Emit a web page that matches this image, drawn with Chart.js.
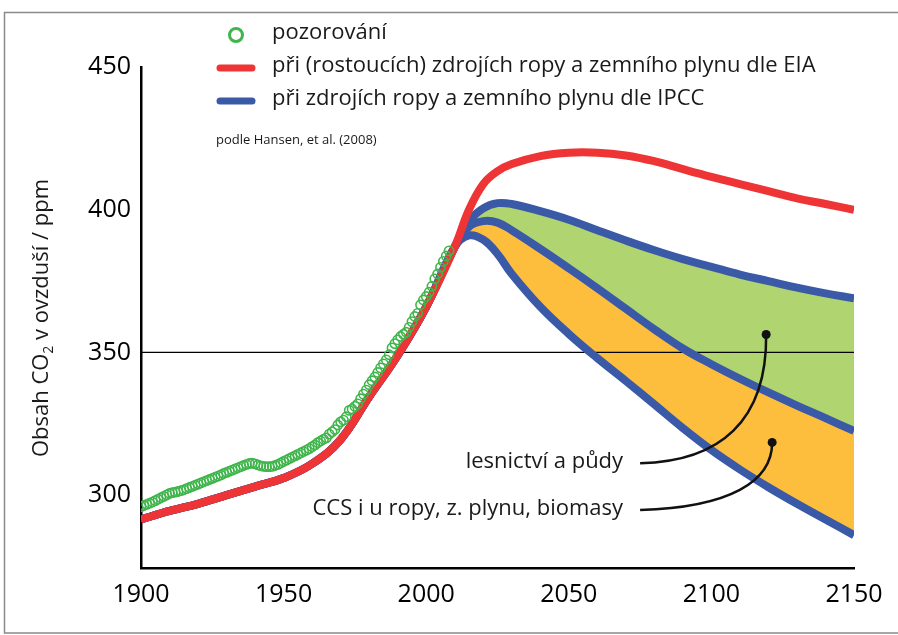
<!DOCTYPE html>
<html>
<head>
<meta charset="utf-8">
<script src="https://cdn.jsdelivr.net/npm/chart.js@4"></script>
<style>
  html, body { margin: 0; padding: 0; background: #fff; }
  canvas { display: block; }
</style>
</head>
<body>
<canvas id="co2" width="898" height="635"></canvas>
<script>
const FONT = '"Open Sans", Lato, sans-serif';

// observations (ice core + Mauna Loa), one per year 1900..2008
const obsStart = 1900;
const obsValues = [
  296.0, 296.4, 296.8, 297.2, 297.6, 298.1, 298.6, 299.1, 299.6, 300.1,
  300.6, 300.9, 301.1, 301.3, 301.6, 301.9, 302.3, 302.7, 303.1, 303.5,
  303.9, 304.3, 304.7, 305.1, 305.5, 305.9, 306.3, 306.7, 307.1, 307.6,
  308.0, 308.4, 308.8, 309.2, 309.6, 310.0, 310.4, 310.8, 311.1, 311.2,
  311.0, 310.6, 310.3, 310.1, 310.0, 310.0, 310.1, 310.4, 310.8, 311.3,
  311.8, 312.3, 312.8, 313.3, 313.8, 314.3, 314.8, 315.3, 315.8, 316.3,
  317.0, 317.6, 318.4, 319.0, 319.6, 320.1, 321.4, 322.2, 323.0, 324.6,
  325.7, 326.3, 327.5, 329.7, 330.2, 331.1, 332.0, 333.8, 335.4, 336.8,
  338.7, 340.1, 341.4, 343.0, 344.6, 346.0, 347.4, 349.2, 351.6, 353.1,
  354.4, 355.6, 356.4, 357.1, 358.8, 360.8, 362.6, 363.7, 366.7, 368.4,
  369.6, 371.1, 373.2, 375.8, 377.5, 379.8, 381.9, 383.8, 385.6
];

// modelled history, shared by all scenarios
const histYears = [1900, 1910, 1920, 1930, 1940, 1950, 1960, 1970, 1980, 1990, 2000];
const histModel = [291.5, 294.5, 297, 300, 303, 306, 311, 319.5, 334.5, 349, 366];

// projections
const projYears = [2010, 2015, 2020, 2025, 2030, 2040, 2050, 2060, 2070, 2080, 2090, 2100, 2110, 2120, 2130, 2140, 2150];
const eiaRed    = [387, 400, 409, 413.5, 416, 418.8, 420, 420, 419, 417, 414.2, 411.5, 409, 406.5, 404, 402, 400];
const ipccHigh  = [387, 396, 400.5, 402.3, 402, 399.5, 396.5, 392.8, 389.2, 385.8, 382.7, 380, 377.3, 375, 372.7, 370.7, 369];
const ipccMid   = [387, 394, 396, 395.5, 392.8, 386.3, 379.5, 372.5, 365.3, 358.1, 351.4, 345.9, 340.8, 336, 331.4, 327, 322.5];
const ipccLow   = [387, 391, 389.5, 384.5, 377.5, 366, 356.5, 348, 340, 331.8, 323.5, 315.8, 309, 302.8, 297, 291.5, 286];

const xTicks = [1900, 1950, 2000, 2050, 2100, 2150];
const yTicks = [300, 350, 400, 450];
const refLevel = 350;

const RED = '#ee3434';
const BLUE = '#3a5aa8';
const GREEN_PT = '#3fb54b';
const GREEN_FILL = '#b0d46f';
const ORANGE_FILL = '#fdbe3e';

function series(years, vals) {
  return years.map((y, i) => ({ x: y, y: vals[i] }));
}
const withHistory = (vals) => series(histYears.concat(projYears), histModel.concat(vals));
const observations = obsValues.map((v, i) => ({ x: obsStart + i, y: v }));

const lineStyle = (color) => ({
  borderColor: color,
  borderWidth: 8,
  pointRadius: 0,
  tension: 0.4,
  borderCapStyle: 'butt',
  borderJoinStyle: 'round'
});

// custom texts: frame, legend, axis title, annotations
const decorations = {
  id: 'decorations',
  beforeDraw(chart) {
    const ctx = chart.ctx;
    ctx.save();
    ctx.fillStyle = '#fff';
    ctx.fillRect(0, 0, chart.width, chart.height);
    ctx.strokeStyle = '#8a8a8a';
    ctx.lineWidth = 1.5;
    ctx.strokeRect(4.5, 12.5, 920, 620.5);
    ctx.restore();
  },
  afterDraw(chart) {
    const ctx = chart.ctx;
    const xs = chart.scales.x, ys = chart.scales.y;
    ctx.save();
    ctx.fillStyle = '#1a1a1a';
    ctx.textBaseline = 'middle';

    // legend
    ctx.lineWidth = 3;
    ctx.strokeStyle = GREEN_PT;
    ctx.beginPath();
    ctx.arc(236, 35, 6.5, 0, Math.PI * 2);
    ctx.stroke();
    ctx.lineCap = 'round';
    ctx.lineWidth = 7;
    ctx.strokeStyle = RED;
    ctx.beginPath(); ctx.moveTo(220, 68); ctx.lineTo(252, 68); ctx.stroke();
    ctx.strokeStyle = BLUE;
    ctx.beginPath(); ctx.moveTo(220, 101); ctx.lineTo(252, 101); ctx.stroke();

    ctx.font = '22px ' + FONT;
    ctx.textAlign = 'left';
    ctx.fillText('pozorování', 272, 33);
    ctx.fillText('při (rostoucích) zdrojích ropy a zemního plynu dle EIA', 272, 66);
    ctx.fillText('při zdrojích ropy a zemního plynu dle IPCC', 272, 99);
    ctx.font = '13px ' + FONT;
    ctx.fillText('podle Hansen, et al. (2008)', 216, 140);

    // y axis title with subscript
    ctx.save();
    ctx.translate(42, 318);
    ctx.rotate(-Math.PI / 2);
    const big = '22px ' + FONT, small = '14px ' + FONT;
    const parts = ['Obsah CO', '2', ' v ovzduší / ppm'];
    ctx.font = big; const w0 = ctx.measureText(parts[0]).width;
    ctx.font = small; const w1 = ctx.measureText(parts[1]).width;
    ctx.font = big; const w2 = ctx.measureText(parts[2]).width;
    let x = -(w0 + w1 + w2) / 2;
    ctx.textAlign = 'left';
    ctx.font = big; ctx.fillText(parts[0], x, 0); x += w0;
    ctx.font = small; ctx.fillText(parts[1], x, 7); x += w1;
    ctx.font = big; ctx.fillText(parts[2], x, 0);
    ctx.restore();

    // annotations (anchored in data units)
    const notes = [
      { text: 'lesnictví a půdy', from: [2075, 311.2], c1: [2103, 311.8], c2: [2119.5, 326], to: [2119.2, 356.3] },
      { text: 'CCS i u ropy, z. plynu, biomasy', from: [2075, 294.8], c1: [2106.5, 295.8], c2: [2121.3, 304.8], to: [2121.3, 318.5] }
    ];
    ctx.font = '22px ' + FONT;
    ctx.textAlign = 'right';
    ctx.strokeStyle = '#111';
    ctx.lineWidth = 2.5;
    ctx.lineCap = 'butt';
    notes.forEach(n => {
      const p = (pt) => [xs.getPixelForValue(pt[0]), ys.getPixelForValue(pt[1])];
      const a = p(n.from), b = p(n.c1), c = p(n.c2), d = p(n.to);
      ctx.beginPath();
      ctx.moveTo(a[0], a[1]);
      ctx.bezierCurveTo(b[0], b[1], c[0], c[1], d[0], d[1]);
      ctx.stroke();
      ctx.fillStyle = '#111';
      ctx.beginPath();
      ctx.arc(d[0], d[1], 4.5, 0, Math.PI * 2);
      ctx.fill();
      ctx.fillStyle = '#1a1a1a';
      ctx.fillText(n.text, a[0] - 17, a[1] - 1);
    });
    ctx.restore();
  }
};

const chart = new Chart(document.getElementById('co2').getContext('2d'), {
  type: 'line',
  data: {
    datasets: [
      {
        label: 'pozorování',
        data: observations,
        showLine: false,
        pointRadius: 4.6,
        pointBorderWidth: 1.6,
        pointBorderColor: GREEN_PT,
        pointBackgroundColor: 'rgba(0,0,0,0)'
      },
      Object.assign({ label: 'EIA', data: withHistory(eiaRed), fill: false }, lineStyle(RED)),
      Object.assign({ label: 'IPCC high', data: withHistory(ipccHigh), fill: 3, backgroundColor: GREEN_FILL }, lineStyle(BLUE)),
      Object.assign({ label: 'IPCC mid', data: withHistory(ipccMid), fill: 4, backgroundColor: ORANGE_FILL }, lineStyle(BLUE)),
      Object.assign({ label: 'IPCC low', data: withHistory(ipccLow), fill: false }, lineStyle(BLUE)),
      {
        label: '350 ppm',
        data: [{ x: xTicks[0], y: refLevel }, { x: xTicks[xTicks.length - 1], y: refLevel }],
        borderColor: '#000',
        borderWidth: 1.3,
        pointRadius: 0,
        fill: false
      }
    ]
  },
  options: {
    responsive: false,
    animation: false,
    devicePixelRatio: 1,
    events: [],
    layout: { padding: { left: 0, top: 67, right: 44, bottom: 0 } },
    plugins: {
      legend: { display: false },
      tooltip: { enabled: false },
      filler: { drawTime: 'beforeDatasetsDraw' }
    },
    scales: {
      x: {
        type: 'linear',
        min: xTicks[0],
        max: xTicks[xTicks.length - 1],
        grid: { display: false, drawTicks: false },
        border: { display: true, color: '#000', width: 2.5 },
        afterBuildTicks: (s) => { s.ticks = xTicks.map(v => ({ value: v })); },
        afterFit: (s) => { s.height = 67; },
        ticks: {
          padding: 12,
          color: '#000',
          font: { family: FONT, size: 25 },
          callback: (v) => String(v)
        }
      },
      y: {
        type: 'linear',
        min: 274.5,
        max: 450,
        grid: { display: false, drawTicks: false },
        border: { display: true, color: '#000', width: 2.5 },
        afterBuildTicks: (s) => { s.ticks = yTicks.map(v => ({ value: v })); },
        afterFit: (s) => { s.width = 141; },
        ticks: {
          padding: 10,
          color: '#000',
          font: { family: FONT, size: 25 },
          callback: (v) => String(v)
        }
      }
    }
  },
  plugins: [decorations]
});
</script>
</body>
</html>
